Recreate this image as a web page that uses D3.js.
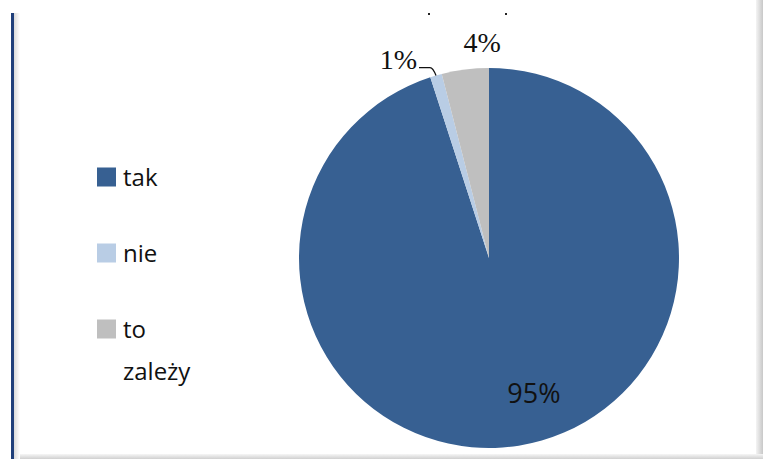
<!DOCTYPE html>
<html>
<head>
<meta charset="utf-8">
<script src="https://cdn.jsdelivr.net/npm/d3@7"></script>
<style>
  html, body { margin: 0; padding: 0; background: #fff; }
  svg { display: block; }
</style>
</head>
<body>
<svg id="chart" width="763" height="459"></svg>
<script>
// Survey answers and their shares (percent)
const categories = ["tak", "nie", "to zależy"];
const values = [95, 1, 4];
const colors = ["#376092", "#B9CDE5", "#BFBFBF"];
const legendLines = [["tak"], ["nie"], ["to", "zależy"]];

const width = 763, height = 459;
const svg = d3.select("#chart");

// frame: dark blue left rule with soft shadow, grey right/bottom edges
const defs = svg.append("defs");
const gH = defs.append("linearGradient").attr("id", "shadeH");
gH.append("stop").attr("offset", "0%").attr("stop-color", "#d9d9d9");
gH.append("stop").attr("offset", "100%").attr("stop-color", "#ffffff");
const gR = defs.append("linearGradient").attr("id", "shadeR");
gR.append("stop").attr("offset", "0%").attr("stop-color", "#f4f4f4");
gR.append("stop").attr("offset", "100%").attr("stop-color", "#c8c8c8");
const gB = defs.append("linearGradient").attr("id", "shadeB")
  .attr("x1", 0).attr("y1", 0).attr("x2", 0).attr("y2", 1);
gB.append("stop").attr("offset", "0%").attr("stop-color", "#f6f6f6");
gB.append("stop").attr("offset", "100%").attr("stop-color", "#d0d0d0");

svg.append("rect").attr("x", 756).attr("y", 0).attr("width", 7).attr("height", height)
  .attr("fill", "url(#shadeR)");
svg.append("rect").attr("x", 14).attr("y", 454).attr("width", 749).attr("height", 5)
  .attr("fill", "url(#shadeB)");
svg.append("rect").attr("x", 14).attr("y", 13).attr("width", 6).attr("height", height - 13)
  .attr("fill", "url(#shadeH)");
svg.append("rect").attr("x", 11).attr("y", 13).attr("width", 3).attr("height", height - 13)
  .attr("fill", "#1F3F7A");

// remnants of the clipped title along the top edge
svg.append("g").selectAll("rect").data([429, 506]).join("rect")
  .attr("x", d => d - 1).attr("y", 13).attr("width", 2).attr("height", 2)
  .attr("fill", "#222");

// pie
const cx = 489, cy = 258, radius = 190;
const data = categories.map((c, i) => ({ name: c, value: values[i], color: colors[i] }));
const pie = d3.pie().sort(null).value(d => d.value)
  .startAngle(0).endAngle(2 * Math.PI);
const arcs = pie(data);
const arc = d3.arc().innerRadius(0).outerRadius(radius);

const g = svg.append("g").attr("transform", `translate(${cx},${cy})`);
g.selectAll("path").data(arcs).join("path")
  .attr("d", arc)
  .attr("fill", d => d.data.color);

// value labels
const fmt = v => `${v}%`;
const inner = d3.arc().innerRadius(140).outerRadius(140);
const big = arcs[0];
const [bx, by] = inner.centroid(big);
g.append("text")
  .attr("x", bx + 23).attr("y", by - 4)
  .attr("text-anchor", "middle").attr("dominant-baseline", "central")
  .attr("font-family", "'Open Sans', 'DejaVu Sans', sans-serif")
  .attr("font-size", 27).attr("fill", "#111")
  .text(fmt(big.data.value));

const edge = d3.arc().innerRadius(radius).outerRadius(radius);
const outer = d3.arc().innerRadius(215).outerRadius(215);

// "to zależy" label above its thin slice
const gr = arcs[2];
const [gx, gy] = outer.centroid(gr);
g.append("text")
  .attr("x", gx + 20).attr("y", gy + 7)
  .attr("text-anchor", "middle")
  .attr("font-family", "'Liberation Serif', 'DejaVu Serif', serif")
  .attr("font-size", 28).attr("fill", "#111")
  .text(fmt(gr.data.value));

// "nie" label with a short leader line
const lb = arcs[1];
const [ex, ey] = edge.centroid(lb);
const lx = ex - 16, ly = ey - 8;
g.append("path")
  .attr("d", `M${lx - 1},${ly} L${ex - 6},${ly} Q${ex - 3},${ly} ${ex},${ey}`)
  .attr("fill", "none").attr("stroke", "#111").attr("stroke-width", 1.3);
g.append("text")
  .attr("x", lx - 3).attr("y", ly + 1)
  .attr("text-anchor", "end")
  .attr("font-family", "'Liberation Serif', 'DejaVu Serif', serif")
  .attr("font-size", 28).attr("fill", "#111")
  .text(fmt(lb.data.value));

// legend
const legendY = d3.scalePoint().domain(categories).range([177, 329]);
const leg = svg.append("g");
const items = leg.selectAll("g").data(data).join("g")
  .attr("transform", d => `translate(97,${legendY(d.name)})`);
items.append("rect")
  .attr("x", 0).attr("y", -9.5).attr("width", 19).attr("height", 19)
  .attr("fill", d => d.color);
items.append("text")
  .attr("font-family", "'Open Sans', 'DejaVu Sans', sans-serif")
  .attr("font-size", 24).attr("fill", "#111")
  .selectAll("tspan").data((d, i) => legendLines[i]).join("tspan")
  .attr("x", 26).attr("y", (d, i) => 9 + i * 42)
  .text(d => d);
</script>
</body>
</html>
